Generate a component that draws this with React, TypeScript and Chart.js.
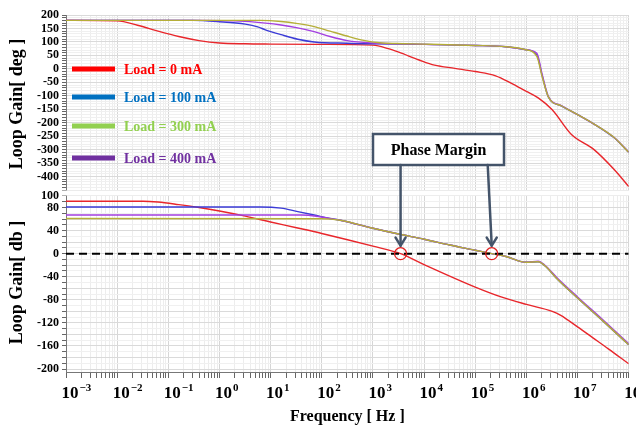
import React, { useEffect, useRef } from "react";
import { Chart, registerables } from "chart.js";

Chart.register(...registerables);

// ---------- data ----------
const seriesLabels = ["Load = 0 mA", "Load = 100 mA", "Load = 300 mA", "Load = 400 mA"];

// Phase (deg)
const phaseFreq0 = [0.001, 0.01, 0.025, 0.063, 0.16, 0.4, 1, 3.2, 10, 100, 1000, 2000, 3200, 8000, 16000, 40000, 100000, 250000, 500000, 1000000, 1700000, 3200000, 7600000, 21000000, 52000000, 100000000];
const phase0 = [180, 178, 162, 140, 120, 105, 96, 93, 92, 91, 88, 75, 62, 33, 14, 2, -10, -26, -53, -84, -108, -152, -244, -300, -374, -437];

const phaseFreq100 = [0.001, 0.3, 1, 3.2, 5.6, 7.9, 16, 34, 71, 316, 1000, 10000, 100000, 400000, 930000, 1600000, 2040000, 2700000, 4900000, 10000000, 21000000, 52000000, 100000000];
const phase100 = [180, 180, 175, 166, 156, 145, 127, 110, 100, 95, 93, 91, 87, 82, 72, 52, -26, -105, -138, -170, -205, -256, -310];

const phaseFreq300 = [0.001, 6.3, 16, 34, 71, 145, 309, 661, 1350, 2900, 10000, 100000, 400000, 930000, 1600000, 2040000, 2700000, 4900000, 10000000, 21000000, 52000000, 100000000];
const phase300 = [180, 180, 176, 168, 157, 140, 122, 106, 97, 94, 92, 87, 82, 72, 46, -30, -105, -138, -170, -205, -255, -310];

const phaseFreq400 = [0.001, 0.5, 2, 7.9, 16, 32, 71, 145, 316, 1000, 2900, 10000, 100000, 400000, 930000, 1600000, 2040000, 2700000, 4900000, 10000000, 21000000, 52000000, 100000000];
const phase400 = [180, 180, 178, 170, 163, 153, 138, 120, 105, 96, 93, 91, 87, 82, 72, 58, -22, -103, -137, -170, -205, -255, -309];

// Gain (dB)
const gainFreq0 = [0.001, 0.032, 0.063, 0.16, 0.4, 1, 3.2, 10, 32, 100, 1000, 3470, 10000, 100000, 320000, 1000000, 3200000, 4700000, 10000000, 20000000, 40000000, 100000000];
const gain0 = [91, 91, 89.5, 85, 80, 74, 65, 55, 45, 35, 13, 0, -19, -58, -75, -88, -100, -107, -127, -146, -165, -191];

const gainFreq100 = [0.001, 6.3, 16, 34, 71, 145, 230, 1000, 3160, 10000, 31600, 100000, 210000, 400000, 1000000, 1700000, 2300000, 4100000, 10000000, 31600000, 100000000];
const gain100 = [81, 81, 79, 73, 67, 61, 58, 44, 34, 25, 15, 6, 0, -5, -15, -14, -21, -45, -77, -117, -158];

const gainFreq300 = [0.001, 100, 230, 1000, 3160, 10000, 31600, 100000, 210000, 400000, 1000000, 1700000, 2300000, 4100000, 10000000, 31600000, 100000000];
const gain300 = [61, 60.5, 58, 44, 34, 25, 15, 6, 0, -5, -15, -14, -21, -45, -77, -117, -158];

const gainFreq400 = [0.001, 40, 79, 141, 230, 1000, 3160, 10000, 31600, 100000, 210000, 400000, 1000000, 1700000, 2300000, 4100000, 10000000, 31600000, 100000000];
const gain400 = [67, 67, 65, 61, 58, 44, 34, 25, 15, 6, 0, -5, -15, -13, -20, -43, -75, -115, -156];

// 0 dB reference line and crossover (phase margin) points
const zeroLineFreq = [0.001, 100000000];
const zeroLineGain = [0, 0];
const crossoverFreq = [3470, 210000];
const crossoverGain = [0, 0];

// axes
const xTickExponents = [-3, -2, -1, 0, 1, 2, 3, 4, 5, 6, 7, 8];
const phaseTickLabels = [200, 150, 100, 50, 0, -50, -100, -150, -200, -250, -300, -350, -400];
const gainTickLabels = [100, 80, 40, 0, -40, -80, -120, -160, -200];

// ---------- styles ----------
const lineColors = ["#e8262b", "#3b3bd6", "#b5ae38", "#a23fe0"];
const legendColors = ["#ff0000", "#0070c0", "#92d050", "#7030a0"];
const SERIF = '"Liberation Serif", "Times New Roman", serif';
const ANNOT = "#44546a";

const pts = (f: number[], v: number[]) => f.map((x, i) => ({ x, y: v[i] }));

export default function App() {
  const ref = useRef<HTMLCanvasElement>(null);

  useEffect(() => {
    const canvas = ref.current;
    if (!canvas) return;

    const xGridValues: number[] = [];
    xTickExponents.forEach((e) => {
      for (let m = 1; m <= 9; m++) {
        const v = m * Math.pow(10, e);
        if (v <= 1e8 * 1.0000001) xGridValues.push(e < 0 ? parseFloat(v.toPrecision(6)) : v);
      }
    });
    const isDecade = (v: number) => {
      const l = Math.log10(v);
      return Math.abs(l - Math.round(l)) < 1e-6;
    };

    const gapPlugin = {
      id: "gap",
      beforeDatasetsDraw(chart: any) {
        const { ctx, chartArea } = chart;
        const yp = chart.scales.yPhase;
        const yg = chart.scales.yGain;
        const a = yp.getPixelForValue(-450);
        const b = yg.getPixelForValue(100);
        ctx.save();
        ctx.fillStyle = "#ffffff";
        ctx.fillRect(chartArea.left - 6, a + 0.5, chartArea.right - chartArea.left + 8, b - a - 1);
        ctx.restore();
      },
    };

    const overlayPlugin = {
      id: "overlay",
      afterDatasetsDraw(chart: any) {
        const { ctx } = chart;
        const xs = chart.scales.x;
        const yg = chart.scales.yGain;
        // legend
        const rows = [69, 97, 126, 158];
        ctx.save();
        seriesLabels.forEach((lab, i) => {
          ctx.strokeStyle = legendColors[i];
          ctx.lineWidth = 5;
          ctx.beginPath();
          ctx.moveTo(72, rows[i]);
          ctx.lineTo(115, rows[i]);
          ctx.stroke();
          ctx.fillStyle = legendColors[i];
          ctx.font = `bold 14px ${SERIF}`;
          ctx.textAlign = "left";
          ctx.textBaseline = "middle";
          ctx.fillText(lab, 124, rows[i] + 1);
        });

        // Phase margin box
        const bx = 373, by = 134, bw = 131, bh = 31;
        ctx.fillStyle = "#ffffff";
        ctx.fillRect(bx, by, bw, bh);
        ctx.strokeStyle = ANNOT;
        ctx.lineWidth = 2.5;
        ctx.strokeRect(bx, by, bw, bh);
        ctx.fillStyle = "#000";
        ctx.font = `bold 16px ${SERIF}`;
        ctx.textAlign = "center";
        ctx.textBaseline = "middle";
        ctx.fillText("Phase Margin", bx + bw / 2, by + bh / 2 + 1);

        // arrows
        const y0 = yg.getPixelForValue(0);
        const tips = crossoverFreq.map((f) => xs.getPixelForValue(f));
        const starts = [tips[0], tips[1] - 4];
        ctx.strokeStyle = ANNOT;
        ctx.lineWidth = 2.5;
        ctx.lineCap = "round";
        ctx.lineJoin = "round";
        tips.forEach((tx, i) => {
          const ty = y0 - 8;
          ctx.beginPath();
          ctx.moveTo(starts[i], by + bh);
          ctx.lineTo(tx, ty);
          ctx.stroke();
          ctx.beginPath();
          ctx.moveTo(tx - 5, ty - 8);
          ctx.lineTo(tx, ty);
          ctx.lineTo(tx + 5, ty - 8);
          ctx.stroke();
        });
        ctx.restore();
      },
      afterDraw(chart: any) {
        const { ctx } = chart;
        const xs = chart.scales.x;
        ctx.save();
        ctx.fillStyle = "#000";
        xTickExponents.forEach((e) => {
          const px = xs.getPixelForValue(Math.pow(10, e)) + 4;
          ctx.font = `bold 17px ${SERIF}`;
          ctx.textAlign = "center";
          ctx.textBaseline = "alphabetic";
          const w = ctx.measureText("10").width;
          ctx.fillText("10", px, 398);
          ctx.font = `bold 11px ${SERIF}`;
          ctx.textAlign = "left";
          const exp = e < 0 ? "\u2212" + String(-e) : String(e);
          ctx.fillText(exp, px + w / 2 + 1, 391);
        });
        ctx.restore();
      },
    };

    const yTickFont = { family: SERIF, weight: "bold" as const, size: 12 };
    const titleFont = { family: SERIF, weight: "bold" as const, size: 18 };

    const mk = (label: string, f: number[], v: number[], color: string, axis: string, order: number) => ({
      label,
      data: pts(f, v),
      yAxisID: axis,
      borderColor: color,
      backgroundColor: color,
      borderWidth: 1.4,
      pointRadius: 0,
      cubicInterpolationMode: "monotone" as const,
      fill: false,
      order,
    });

    const chart = new Chart(canvas, {
      type: "line",
      data: {
        datasets: [
          mk(seriesLabels[0], phaseFreq0, phase0, lineColors[0], "yPhase", 5),
          mk(seriesLabels[1], phaseFreq100, phase100, lineColors[1], "yPhase", 4),
          mk(seriesLabels[3], phaseFreq400, phase400, lineColors[3], "yPhase", 3),
          mk(seriesLabels[2], phaseFreq300, phase300, lineColors[2], "yPhase", 2),
          mk(seriesLabels[0], gainFreq0, gain0, lineColors[0], "yGain", 5),
          mk(seriesLabels[1], gainFreq100, gain100, lineColors[1], "yGain", 4),
          mk(seriesLabels[3], gainFreq400, gain400, lineColors[3], "yGain", 3),
          mk(seriesLabels[2], gainFreq300, gain300, lineColors[2], "yGain", 2),
          {
            label: "0 dB",
            data: pts(zeroLineFreq, zeroLineGain),
            yAxisID: "yGain",
            borderColor: "#000",
            borderWidth: 2,
            borderDash: [8, 5],
            pointRadius: 0,
            fill: false,
            order: 1,
          },
          {
            label: "crossover",
            data: pts(crossoverFreq, crossoverGain),
            yAxisID: "yGain",
            showLine: false,
            pointRadius: 6,
            pointStyle: "circle",
            pointBorderColor: "#e02020",
            pointBackgroundColor: "rgba(0,0,0,0)",
            pointBorderWidth: 1.3,
            order: 0,
          },
        ] as any,
      },
      options: {
        responsive: false,
        animation: false,
        layout: { padding: { top: 15, right: 2, left: 0, bottom: 0 } },
        plugins: { legend: { display: false }, tooltip: { enabled: false } },
        scales: {
          x: {
            type: "logarithmic",
            position: "bottom",
            min: 1e-3,
            max: 1e8,
            afterBuildTicks: (s: any) => {
              s.ticks = xGridValues.map((v) => ({ value: v, major: isDecade(v) }));
            },
            afterFit: (s: any) => {
              s.height = 57;
            },
            ticks: { display: false, autoSkip: false },
            grid: {
              color: (c: any) => (c.tick && isDecade(c.tick.value) ? "#d6d6d6" : "#ededed"),
              tickColor: "#666",
              tickLength: 6,
              drawTicks: true,
            },
            border: { display: true, color: "#777" },
            title: {
              display: true,
              text: "Frequency [ Hz ]",
              color: "#000",
              font: { family: SERIF, weight: "bold", size: 16 },
              padding: { top: 0, bottom: 3 },
            },
          },
          yPhase: {
            type: "linear",
            position: "left",
            stack: "v",
            stackWeight: 178,
            weight: 1,
            min: -461,
            max: 200,
            afterBuildTicks: (s: any) => {
              const t: any[] = [];
              for (let v = 200; v >= -450; v -= 10) t.push({ value: v });
              s.ticks = t;
            },
            afterFit: (s: any) => {
              s.width = 66;
            },
            ticks: {
              autoSkip: false,
              color: "#000",
              font: yTickFont,
              padding: 3,
              callback: (v: any) => (phaseTickLabels.includes(Number(v)) ? String(v) : ""),
            },
            grid: {
              color: (c: any) => (c.tick && c.tick.value % 50 === 0 ? "#dadada" : "#f0f0f0"),
              tickColor: "#666",
              tickLength: 4,
            },
            border: { display: true, color: "#777" },
            title: {
              display: true,
              text: "Loop Gain[ deg ]",
              color: "#000",
              font: titleFont,
              padding: { top: 7, bottom: 0 },
            },
          },
          yGain: {
            type: "linear",
            position: "left",
            stack: "v",
            stackWeight: 179,
            weight: 0,
            min: -205.2,
            max: 105.2,
            afterBuildTicks: (s: any) => {
              const t: any[] = [];
              for (let v = 100; v >= -200; v -= 10) t.push({ value: v });
              s.ticks = t;
            },
            afterFit: (s: any) => {
              s.width = 66;
            },
            ticks: {
              autoSkip: false,
              color: "#000",
              font: yTickFont,
              padding: 3,
              callback: (v: any) => (gainTickLabels.includes(Number(v)) ? String(v) : ""),
            },
            grid: {
              color: (c: any) => (c.tick && c.tick.value % 20 === 0 ? "#dadada" : "#f0f0f0"),
              tickColor: "#666",
              tickLength: 4,
            },
            border: { display: true, color: "#777" },
            title: {
              display: true,
              text: "Loop Gain[ db ]",
              color: "#000",
              font: titleFont,
              padding: { top: 7, bottom: 0 },
            },
          },
        } as any,
      },
      plugins: [gapPlugin, overlayPlugin],
    });

    return () => chart.destroy();
  }, []);

  return (
    <div style={{ position: "fixed", left: 0, top: 0, width: 636, height: 429, background: "#ffffff" }}>
      <canvas ref={ref} width={636} height={429} style={{ display: "block", width: 636, height: 429 }} />
    </div>
  );
}
